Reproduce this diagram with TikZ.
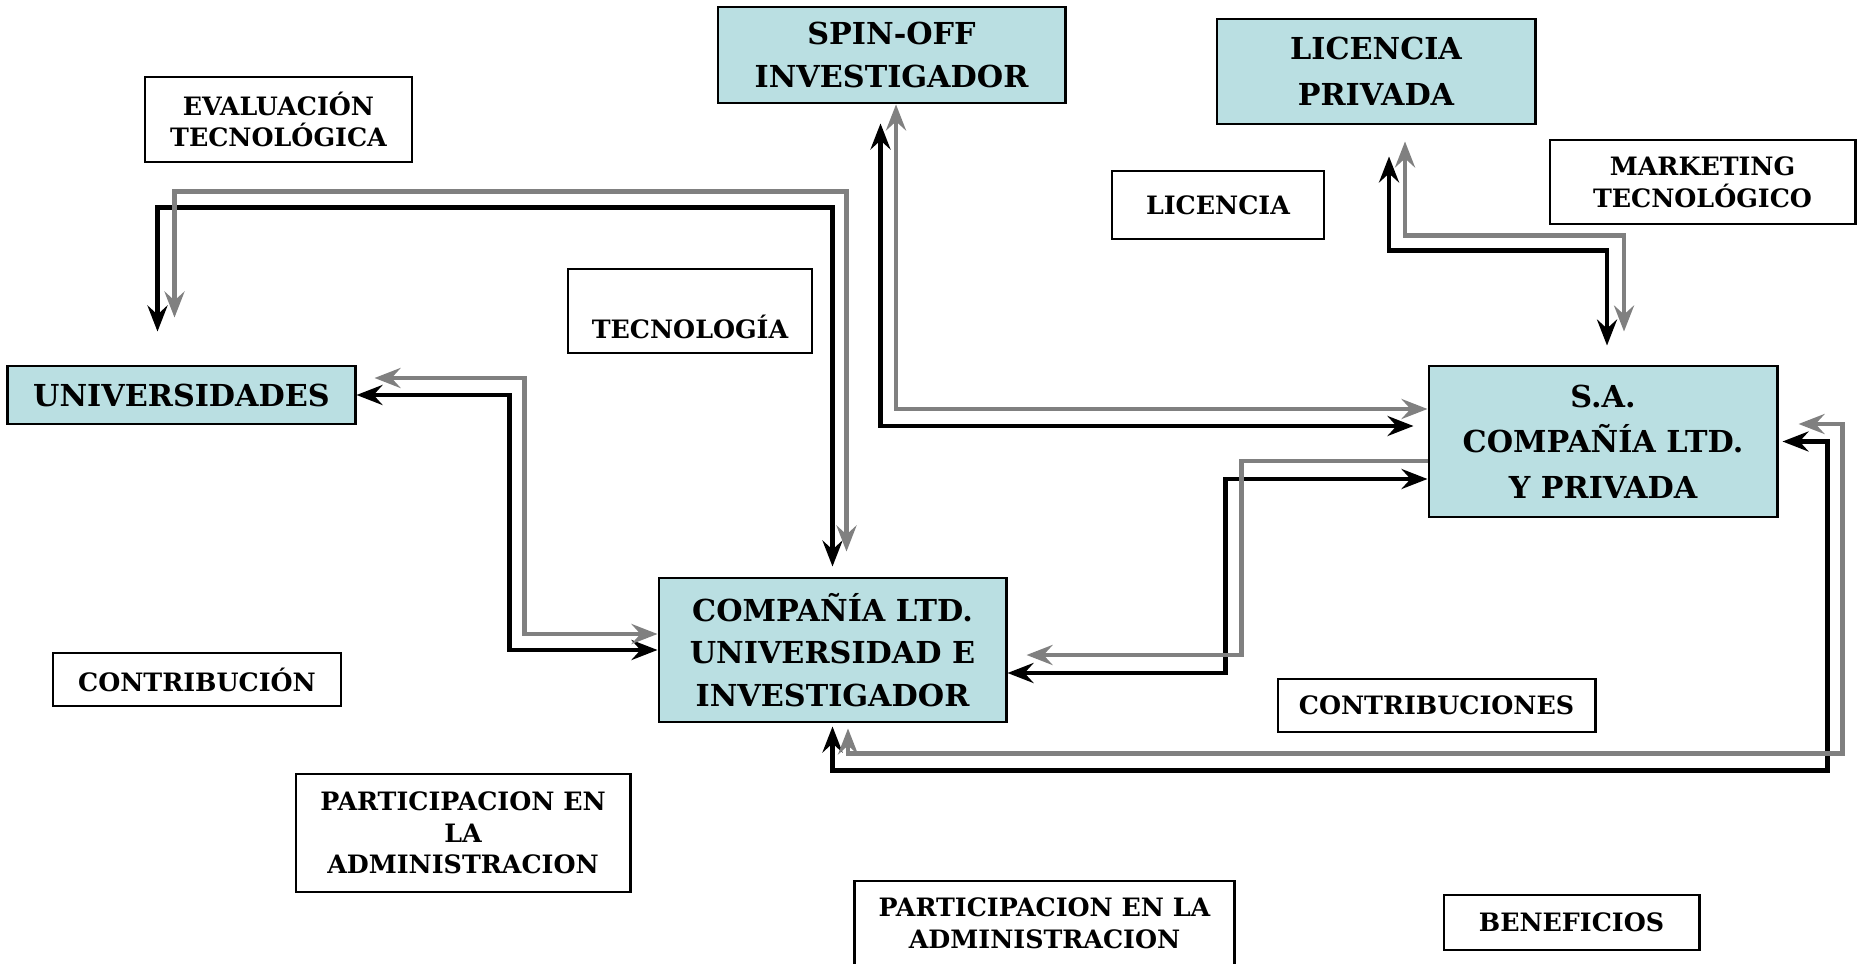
\documentclass[tikz,border=0pt]{standalone}
\usepackage{fontspec}
\setmainfont{DejaVu Serif}
\usepackage{tikz}
\usetikzlibrary{arrows.meta,positioning,calc}
\usepackage{xcolor}
\definecolor{boxteal}{RGB}{186,223,226}
\definecolor{arrgray}{RGB}{128,128,128}
\tikzstyle{entity} = [rectangle, draw=black, line width=0.8pt, fill=boxteal, inner sep=0pt, align=center, font=\bfseries\fontsize{8.6}{12}\selectfont]
\tikzstyle{tag} = [rectangle, draw=black, line width=0.8pt, fill=white, inner sep=0pt, align=center, font=\bfseries\fontsize{7.2}{9}\selectfont]
\tikzstyle{blkline} = [line width=1.4pt, >={Stealth[length=0.26cm,width=0.2cm,inset=0.09cm]}, color=black]
\tikzstyle{gryline} = [line width=1.3pt, >={Stealth[length=0.26cm,width=0.2cm,inset=0.09cm]}, color=arrgray]

\begin{document}
\begin{tikzpicture}[x=0.01cm, y=-0.01cm]
    \useasboundingbox (0,0) rectangle (1864,964);

    % Main boxes
    \node[entity, minimum width=3.47cm, minimum height=0.96cm] (spin) at (891.5,55) {SPIN-OFF\\INVESTIGADOR};
    \node[entity, minimum width=3.18cm, minimum height=1.05cm, font=\bfseries\fontsize{8.6}{13}\selectfont] (lp) at (1376,71.5) {LICENCIA\\PRIVADA};
    \node[entity, minimum width=3.47cm, minimum height=0.58cm] (univ) at (181.5,395) {UNIVERSIDADES};
    \node[entity, minimum width=3.48cm, minimum height=1.51cm, font=\bfseries\fontsize{8.6}{13}\selectfont] (sa) at (1603,441.5) {S.A.\\COMPAÑÍA LTD.\\Y PRIVADA};
    \node[entity, minimum width=3.47cm, minimum height=1.44cm] (comp) at (832.5,650) {COMPAÑÍA LTD.\\UNIVERSIDAD E\\INVESTIGADOR};

    % Labels
    \node[tag, minimum width=2.67cm, minimum height=0.85cm] (evaltec) at (278.5,119.5) {EVALUACIÓN\\TECNOLÓGICA};
    \node[tag, minimum width=2.12cm, minimum height=0.68cm] (licen) at (1218,205) {LICENCIA};
    \node[tag, minimum width=3.05cm, minimum height=0.84cm] (mkt) at (1702.5,182) {MARKETING\\TECNOLÓGICO};
    \node[tag, minimum width=2.44cm, text height=0.6cm, text depth=0.06cm, inner ysep=0.09cm] (tecno) at (690,311) {TECNOLOGÍA};
    \node[tag, minimum width=2.88cm, minimum height=0.53cm] (contrib) at (197,679.5) {CONTRIBUCIÓN};
    \node[tag, minimum width=3.17cm, minimum height=0.53cm] (contribs) at (1436.5,705.5) {CONTRIBUCIONES};
    \node[tag, minimum width=3.34cm, minimum height=1.18cm] (partic) at (463,833) {PARTICIPACION EN\\LA\\ADMINISTRACION};
    \node[tag, minimum width=3.79cm, minimum height=0.84cm] (partadm) at (1044.5,923) {PARTICIPACION EN LA\\ADMINISTRACION};
    \node[tag, minimum width=2.55cm, minimum height=0.55cm] (benef) at (1571.5,922.5) {BENEFICIOS};

    % Universidades - Compania, over the top
    \draw[blkline, <->, shorten <=0.33cm, shorten >=0.10cm] ($(univ.north)+(-24,0)$) |- ($(comp.north)+(0,-369)$) -- (comp.north);
    \draw[gryline, <->, shorten <=0.47cm, shorten >=0.25cm] ($(univ.north)+(-7,0)$) |- ($(comp.north)+(14,-385)$) -- ($(comp.north)+(14,0)$);

    % Universidades - Compania, left side
    \draw[blkline, <->] (univ.east) -- ++(153,0) |- (comp.west);
    \draw[gryline, <->, shorten <=0.18cm] ($(univ.east)+(0,-17)$) -- ++(168,0) |- ($(comp.west)+(0,-16)$);

    % Spin-off - S.A.
    \draw[blkline, <->, shorten <=0.19cm, shorten >=0.14cm] ($(spin.south)+(-11,0)$) |- ($(sa.west)+(0,-15.5)$);
    \draw[gryline, <->] ($(spin.south)+(4.5,0)$) |- ($(sa.west)+(0,-32.5)$);

    % Licencia privada - S.A.
    \draw[blkline, <->, shorten <=0.31cm, shorten >=0.19cm] ($(lp.south)+(13,0)$) |- ($(sa.north)+(4,-114)$) -- ($(sa.north)+(4,0)$);
    \draw[gryline, <->, shorten <=0.16cm, shorten >=0.33cm] ($(lp.south)+(29,0)$) |- ($(sa.north)+(21,-129)$) -- ($(sa.north)+(21,0)$);

    % Compania - S.A., middle
    \draw[blkline, <->] ($(comp.east)+(0,23)$) -- ++(218,0) |- ($(sa.west)+(0,37.5)$);
    \draw[gryline, <-, shorten <=0.19cm] ($(comp.east)+(0,5)$) -- ++(234,0) |- ($(sa.west)+(0,19.5)$);

    % Compania - S.A., underneath
    \draw[blkline, <->, shorten <=0.03cm, shorten >=0.04cm] (comp.south) -- ++(0,47) -| ($(sa.east)+(49,0)$) -- (sa.east);
    \draw[gryline, <->, shorten <=0.05cm, shorten >=0.20cm] ($(comp.south)+(15.5,0)$) -- ++(0,30) -| ($(sa.east)+(64,-17.5)$) -- ($(sa.east)+(0,-17.5)$);
\end{tikzpicture}
\end{document}
